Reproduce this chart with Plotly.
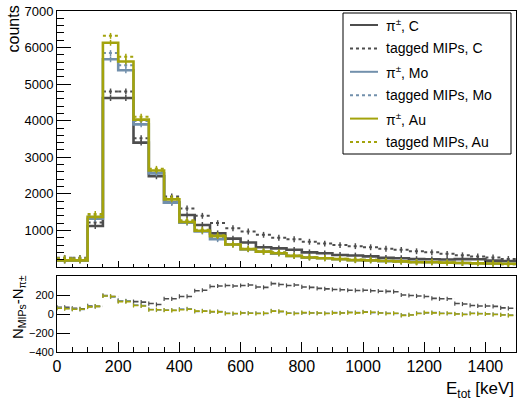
import numpy as np
import plotly.graph_objects as go

# ---------------- data ----------------
BIN_W_TOP = 50   # keV, upper panel
BIN_W_BOT = 25   # keV, difference panel

pi_C = [180, 180, 1120, 4620, 4620, 3400, 2480, 1760, 1420, 1150, 920, 775, 668, 540, 508,
        470, 400, 374, 330, 313, 290, 250, 240, 215, 210, 205, 215, 210, 175, 165]
mip_C = [250, 250, 1220, 4800, 4800, 3520, 2580, 1930, 1600, 1400, 1200, 1060, 970, 880, 800,
         760, 690, 640, 600, 570, 540, 500, 470, 430, 400, 360, 320, 290, 260, 220]
pi_Mo = [175, 175, 1320, 5680, 5380, 3900, 2560, 1760, 1210, 970, 760, 615, 480, 415, 365,
         300, 255, 238, 210, 185, 178, 160, 150, 138, 128, 118, 108, 102, 92, 88]
mip_Mo = [235, 230, 1400, 5850, 5520, 3990, 2600, 1800, 1255, 1000, 790, 620, 490, 420, 395,
          308, 268, 245, 222, 200, 198, 168, 150, 135, 140, 122, 108, 105, 92, 76]
pi_Au = [180, 180, 1370, 6130, 5620, 4030, 2640, 1850, 1230, 990, 845, 615, 490, 420, 374,
         303, 260, 240, 214, 187, 180, 165, 155, 130, 130, 120, 110, 100, 95, 90]
mip_Au = [240, 235, 1450, 6320, 5750, 4110, 2685, 1890, 1275, 1020, 870, 620, 500, 425, 403,
          310, 272, 248, 226, 202, 200, 172, 152, 128, 143, 126, 110, 104, 95, 76]

diff_C = [70, 70, 60, 55, 85, 80, 195, 185, 140, 135,
          130, 125, 110, 100, 160, 160, 185, 185, 245, 250,
          290, 295, 300, 295, 300, 305, 285, 280, 320, 310,
          300, 305, 285, 280, 270, 265, 258, 255, 250, 248,
          250, 245, 240, 238, 235, 200, 195, 190, 185, 165,
          160, 160, 110, 105, 90, 85, 85, 80, 65, 60]
diff_Mo = [65, 58, 52, 48, 78, 82, 192, 180, 140, 138,
           95, 88, 48, 42, 42, 40, 52, 55, 28, 32,
           22, 25, 8, 2, 12, 10, 8, 5, 32, 25,
           10, 8, 12, 12, 8, 8, 15, 12, 18, 15,
           22, 15, 12, 8, 5, -12, -8, 8, 12, 15,
           8, 5, 3, -3, 8, 5, 2, -3, -8, -12]
diff_Au = [60, 55, 50, 50, 75, 80, 190, 185, 130, 130,
           90, 85, 45, 45, 40, 38, 45, 50, 30, 30,
           25, 22, 5, 5, 10, 8, 5, 8, 30, 28,
           8, 5, 15, 10, 10, 5, 12, 10, 15, 12,
           20, 18, 10, 5, 8, -15, -10, 5, 15, 12,
           5, 8, 0, -5, 5, 3, 0, -5, -10, -15]

legend_labels = ["π<sup>±</sup>, C", "tagged MIPs, C",
                 "π<sup>±</sup>, Mo", "tagged MIPs, Mo",
                 "π<sup>±</sup>, Au", "tagged MIPs, Au"]

x_ticks = [0, 200, 400, 600, 800, 1000, 1200, 1400]
y_ticks_top = [1000, 2000, 3000, 4000, 5000, 6000, 7000]
y_ticks_bot = [-400, -200, 0, 200]

# ---------------- style ----------------
COL_C = "#4d4d4d"
COL_MO = "#7290ac"
COL_AU = "#a3a30c"
FONT = "Liberation Sans"
DOT = "3px,3px"

ERR_TOP = 80
ERR_BOT = 22


def step_xy(vals, w):
    edges = np.arange(len(vals) + 1) * w
    return edges, list(vals) + [vals[-1]]


def seg_xy(vals, w):
    xs, ys = [], []
    for i, v in enumerate(vals):
        xs += [i * w, (i + 1) * w, None]
        ys += [v, v, None]
    return xs, ys


def centers(vals, w):
    return np.arange(len(vals)) * w + w / 2.0


fig = go.Figure()

# ---------- top panel ----------
for pi, mip, col in [(pi_C, mip_C, COL_C), (pi_Mo, mip_Mo, COL_MO), (pi_Au, mip_Au, COL_AU)]:
    ex, ey = step_xy(pi, BIN_W_TOP)
    fig.add_trace(go.Scatter(x=ex, y=ey, mode="lines", line=dict(color=col, width=2.6, shape="hv"),
                             xaxis="x2", yaxis="y", hoverinfo="skip"))
    fig.add_trace(go.Scatter(x=centers(pi, BIN_W_TOP), y=pi, mode="markers",
                             marker=dict(size=0.1, color=col),
                             error_y=dict(type="constant", value=ERR_TOP, color=col, thickness=1.5, width=0),
                             xaxis="x2", yaxis="y", hoverinfo="skip"))
    sx, sy = seg_xy(mip, BIN_W_TOP)
    fig.add_trace(go.Scatter(x=sx, y=sy, mode="lines", line=dict(color=col, width=2, dash=DOT),
                             connectgaps=False, xaxis="x2", yaxis="y", hoverinfo="skip"))
    fig.add_trace(go.Scatter(x=centers(mip, BIN_W_TOP), y=mip, mode="markers",
                             marker=dict(size=0.1, color=col),
                             error_y=dict(type="constant", value=ERR_TOP, color=col, thickness=1.5, width=0),
                             xaxis="x2", yaxis="y", hoverinfo="skip"))

# ---------- bottom panel ----------
for d, col in [(diff_C, COL_C), (diff_Mo, COL_MO), (diff_Au, COL_AU)]:
    sx, sy = seg_xy(d, BIN_W_BOT)
    fig.add_trace(go.Scatter(x=sx, y=sy, mode="lines", line=dict(color=col, width=1.6, dash="5px,2.6px"),
                             connectgaps=False, xaxis="x", yaxis="y2", hoverinfo="skip"))
    fig.add_trace(go.Scatter(x=centers(d, BIN_W_BOT) - BIN_W_BOT / 2.0, y=d, mode="markers",
                             marker=dict(size=0.1, color=col),
                             error_y=dict(type="constant", value=ERR_BOT, color=col, thickness=1.2, width=0),
                             xaxis="x", yaxis="y2", hoverinfo="skip"))

# pixel -> paper helpers (plot area: x 57..516, y 11..352)
L, R, T, B = 57, 516, 11, 352


def xp(px):
    return (px - L) / (R - L)


def yp(py):
    return (B - py) / (B - T)


axis_common = dict(showline=True, linecolor="black", linewidth=1, mirror=True,
                   showgrid=False, zeroline=False, ticks="inside", tickcolor="black",
                   tickfont=dict(family=FONT, size=13, color="black"))

fig.update_layout(
    width=517, height=403,
    margin=dict(l=L, r=517 - R, t=T, b=403 - B),
    plot_bgcolor="white", paper_bgcolor="white",
    showlegend=False,
    font=dict(family=FONT, color="black"),
    xaxis=dict(**axis_common, domain=[0, 1], anchor="y2", range=[0, 1500],
               tickvals=x_ticks, ticklen=10,
               minor=dict(dtick=50, tick0=0, ticklen=5, ticks="inside", tickcolor="black")),
    xaxis2=dict(**axis_common, domain=[0, 1], anchor="y", matches="x", range=[0, 1500],
                tickvals=x_ticks, ticklen=6, showticklabels=False,
                minor=dict(dtick=50, tick0=0, ticklen=3, ticks="inside", tickcolor="black")),
    yaxis=dict(**axis_common, domain=[yp(267), 1], anchor="x2", range=[0, 7000],
               tickvals=y_ticks_top, ticklen=14,
               minor=dict(dtick=200, tick0=0, ticklen=7, ticks="inside", tickcolor="black")),
    yaxis2=dict(**axis_common, domain=[0, yp(276)], anchor="x", range=[-400, 400],
                tickvals=y_ticks_bot, ticklen=13),
)
fig.update_xaxes(tickfont=dict(size=16), selector=dict(anchor="y2"))
fig.update_yaxes(tickfont=dict(size=11), selector=dict(anchor="x"))

# ---------- legend (drawn by hand) ----------
shapes = [dict(type="rect", xref="paper", yref="paper", x0=xp(343), x1=xp(511), y0=yp(154), y1=yp(13),
               line=dict(color="black", width=1), fillcolor="white", layer="above")]
annos = []
leg_cols = [COL_C, COL_C, COL_MO, COL_MO, COL_AU, COL_AU]
for i, (lab, col) in enumerate(zip(legend_labels, leg_cols)):
    ypix = 25 + i * 23.4
    dashed = (i % 2 == 1)
    shapes.append(dict(type="line", xref="paper", yref="paper", x0=xp(350), x1=xp(378),
                       y0=yp(ypix), y1=yp(ypix),
                       line=dict(color=col, width=2, dash="dot" if dashed else "solid"), layer="above"))
    annos.append(dict(text=lab, xref="paper", yref="paper", x=xp(384), y=yp(ypix), xanchor="left",
                      yanchor="middle", showarrow=False, font=dict(family=FONT, size=14, color="black")))

# axis titles
annos.append(dict(text="counts", xref="paper", yref="paper", x=xp(13), y=yp(4), textangle=-90,
                  xanchor="center", yanchor="top", showarrow=False,
                  font=dict(family=FONT, size=16, color="black")))
annos.append(dict(text="N<sub>MIPs</sub>-N<sub>π±</sub>", xref="paper", yref="paper", x=xp(18), y=yp(307),
                  textangle=-90, xanchor="center", yanchor="middle", showarrow=False,
                  font=dict(family=FONT, size=15, color="black")))
annos.append(dict(text="E<sub>tot</sub> [keV]", xref="paper", yref="paper", x=xp(516), y=yp(390),
                  xanchor="right", yanchor="middle", showarrow=False,
                  font=dict(family=FONT, size=17, color="black")))

fig.update_layout(shapes=shapes, annotations=annos)
fig.write_html("out.html", config={"displayModeBar": False},
               post_script="document.body.style.margin='0';document.body.style.padding='0';"
                           "document.documentElement.style.overflow='hidden';")
